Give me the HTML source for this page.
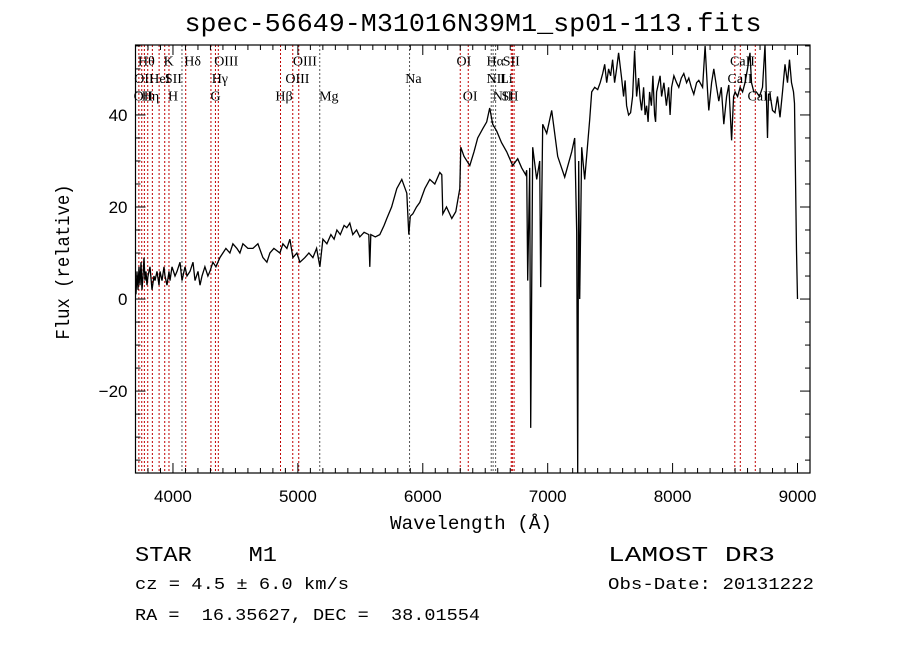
<!DOCTYPE html>
<html><head><meta charset="utf-8"><style>
html,body{margin:0;padding:0;background:#fff}
svg{display:block}
text{white-space:pre}
</style></head><body>
<svg id="chart" width="900" height="649" xmlns="http://www.w3.org/2000/svg" xml:space="preserve">
<rect width="900" height="649" fill="#fff"/>
<text x="473" y="31" text-anchor="middle" font-family="Liberation Mono, monospace" font-size="26" textLength="577" lengthAdjust="spacingAndGlyphs">spec-56649-M31016N39M1_sp01-113.fits</text>
<g id="lines"></g>
<g id="spec"></g>
<g id="axes"></g>
<text x="471" y="529" text-anchor="middle" font-family="Liberation Mono, monospace" font-size="19" textLength="162" lengthAdjust="spacingAndGlyphs">Wavelength (Å)</text>
<text transform="translate(69,262) rotate(-90)" text-anchor="middle" font-family="Liberation Mono, monospace" font-size="19" textLength="155" lengthAdjust="spacingAndGlyphs">Flux (relative)</text>
<text x="135" y="561" font-family="Liberation Mono, monospace" font-size="21" textLength="142" lengthAdjust="spacingAndGlyphs">STAR    M1</text>
<text x="608" y="561" font-family="Liberation Mono, monospace" font-size="21" textLength="167" lengthAdjust="spacingAndGlyphs">LAMOST DR3</text>
<text x="135" y="589" font-family="Liberation Mono, monospace" font-size="17" textLength="214" lengthAdjust="spacingAndGlyphs">cz = 4.5 ± 6.0 km/s</text>
<text x="608" y="589" font-family="Liberation Mono, monospace" font-size="17" textLength="206" lengthAdjust="spacingAndGlyphs">Obs-Date: 20131222</text>
<text x="135" y="620" font-family="Liberation Mono, monospace" font-size="17" textLength="345" lengthAdjust="spacingAndGlyphs">RA =  16.35627, DEC =  38.01554</text>
</svg>
<script>
const wavelengths=[3704,3712,3720,3728,3736,3744,3752,3760,3768,3776,3784,3792,3800,3816,3832,3848,3856,3872,3888,3896,3912,3928,3936,3952,3968,3976,3992,4016,4032,4056,4072,4096,4112,4136,4160,4176,4200,4216,4232,4256,4280,4296,4320,4344,4376,4400,4424,4456,4480,4512,4536,4560,4600,4640,4680,4720,4752,4776,4808,4856,4880,4912,4936,4960,4992,5016,5056,5088,5120,5150,5176,5200,5232,5264,5290,5312,5340,5370,5392,5416,5440,5470,5496,5530,5568,5576,5584,5620,5656,5690,5712,5750,5792,5832,5872,5888,5900,5920,5950,5976,6016,6056,6096,6136,6152,6160,6190,6232,6264,6296,6304,6330,6376,6410,6440,6480,6512,6536,6560,6592,6630,6672,6720,6760,6792,6824,6832,6840,6856,6864,6880,6912,6936,6944,6960,6992,7032,7080,7136,7192,7216,7232,7240,7248,7256,7272,7296,7336,7352,7376,7400,7420,7440,7456,7472,7488,7504,7520,7536,7552,7568,7592,7608,7620,7632,7648,7664,7680,7696,7712,7728,7740,7752,7768,7780,7792,7804,7816,7830,7842,7856,7864,7872,7888,7900,7912,7930,7950,7968,7980,7992,8010,8032,8050,8070,8090,8112,8130,8150,8170,8192,8210,8240,8260,8280,8290,8312,8330,8352,8370,8390,8410,8432,8450,8472,8488,8500,8520,8540,8560,8580,8600,8620,8632,8650,8670,8696,8720,8740,8760,8768,8780,8800,8820,8840,8860,8880,8900,8920,8936,8952,8968,8976,8992,9000,9004];
const fluxes=[1,6,2,7,3,8,2,5,9,4,6,3,5,7,2,5,4,6,3,6,4,7,5,3,6,4,7,5,6,8,4,7,5,6,8,4,6,3,5,7,5,6,8,7,9,10,11,10,12,11,10,12,11,11,12,9,8,10,11,10,12,11,13,9,10,8,9,10,9,11,7,13,12,14,13,15,14,16,15.5,16.5,14,15,13.5,14.5,14,7,14,13.5,14,16,17.5,20,24,26,23,14,18,18.5,20,21,24,26,25,27.5,27,18.5,20,17.5,19,24,33,31,29,32,35,37,38.5,41.5,38,36.5,34,32,29,30.5,28.5,27,28,4,28.5,-28,33,26,30,2.6,38,36,41,31,26.5,32,35,14.5,-40,30,0,33,26,39,45,46,45.5,47,49,51,47,50,48.5,52,47,50,53.5,48,44,47.5,42,40,40.5,44,54,44,48,43.5,41,46,40,42,38.5,45,42,48.5,40,38.5,45,47,48.5,44,47,42,46,40,46,48.5,47,46,48,49,47,48,46,44.5,47,47.5,46,55,45,41,47,50,46,43,46,38,44,46.5,34.5,44,45,44,46,45,47,50,53.5,47,45,45,44,46,56,35,44.5,44.5,41,40.5,44,39.5,45,51,47,52,47,45,42.5,10.5,0];
const lineWaves=[3727,3750,3771,3798,3835,3889,3934,3968,4072,4102,4304,4340,4363,4861,4959,5007,5175,5894,6300,6364,6548,6563,6583,6708,6717,6731,8498,8542,8662];
const lineBlack=[0,0,0,0,0,0,0,0,1,0,0,0,0,0,0,0,1,1,0,0,1,1,1,0,0,0,0,0,0];
const lineLabels=["OII","Hθ","OII","Hη","HeI","K","H","SII","Hδ","G","Hγ","OIII","Hβ","OIII","OIII","Mg","Na","OI","OI","Hα","NII","NII","Li","SII","SII","CaII","CaII","CaII"];
const labelWaves=[3690,3720,3685,3750,3810,3925,3960,3935,4090,4300,4310,4330,4820,4900,4960,5170,5860,6270,6320,6510,6510,6560,6620,6640,6630,8460,8440,8600];
const labelRows=[2,1,3,3,2,1,3,2,1,3,2,1,3,2,1,3,2,1,3,1,2,3,2,1,3,1,2,3];
const xTicks=[4000,5000,6000,7000,8000,9000];
const yTicks=[-20,0,20,40];

const X0=135.5,X1=810,W0=3700,W1=9100,Y0=45,Y1=473,F0=-37.8,F1=55.2;
function xs(w){return X0+(w-W0)/(W1-W0)*(X1-X0);}
function ys(f){return Y1-(f-F0)/(F1-F0)*(Y1-Y0);}
const NS="http://www.w3.org/2000/svg";
function mk(tag,attrs,parent){const e=document.createElementNS(NS,tag);for(const k in attrs)e.setAttribute(k,attrs[k]);parent.appendChild(e);return e;}

const lg=document.getElementById('lines');
lineWaves.forEach((w,i)=>{
  const l=mk('line',{x1:xs(w),x2:xs(w),y1:Y0,y2:Y1,stroke:lineBlack[i]?'#555':'#c00000','stroke-width':1,'stroke-dasharray':'2,2'},lg);
  
  
});
lineLabels.forEach((t,i)=>{
  const e=mk('text',{x:xs(labelWaves[i]),y:48+labelRows[i]*17.5,'font-family':'Liberation Serif, serif','font-size':14},lg);
  e.textContent=t;
  
  
});

const sg=document.getElementById('spec');
let d='';
wavelengths.forEach((w,i)=>{const f=Math.max(F0,Math.min(F1,fluxes[i]));d+=(i?'L':'M')+xs(w).toFixed(1)+','+ys(f).toFixed(1);});
const cp=mk('clipPath',{id:'pc'},sg);mk('rect',{x:X0,y:Y0,width:X1-X0,height:Y1-Y0},cp);
const p=mk('path',{d:d,fill:'none',stroke:'#000','stroke-width':1.3,'clip-path':'url(#pc)'},sg);



const ag=document.getElementById('axes');
const fr=mk('rect',{x:X0,y:Y0,width:X1-X0,height:Y1-Y0,fill:'none',stroke:'#000','stroke-width':1.2},ag);


for(let w=3800;w<=9100;w+=100){const maj=w%1000===0;const L=maj?10:5;
  mk('line',{x1:xs(w),x2:xs(w),y1:Y1,y2:Y1-L,stroke:'#000'},ag);
  mk('line',{x1:xs(w),x2:xs(w),y1:Y0,y2:Y0+L,stroke:'#000'},ag);}
for(let f=-35;f<=55;f+=5){const maj=f%20===0;const L=maj?10:5;
  mk('line',{x1:X0,x2:X0+L,y1:ys(f),y2:ys(f),stroke:'#000'},ag);
  mk('line',{x1:X1,x2:X1-L,y1:ys(f),y2:ys(f),stroke:'#000'},ag);}
xTicks.forEach(w=>{const t=mk('text',{x:xs(w),y:Y1+29,'text-anchor':'middle','font-family':'Liberation Sans, sans-serif','font-size':17},ag);t.textContent=w;
  
  });
yTicks.forEach(f=>{const t=mk('text',{x:X0-8,y:ys(f)+6,'text-anchor':'end','font-family':'Liberation Sans, sans-serif','font-size':17},ag);t.textContent=f<0?'−'+(-f):f;
  
  });
</script>
</body></html>
